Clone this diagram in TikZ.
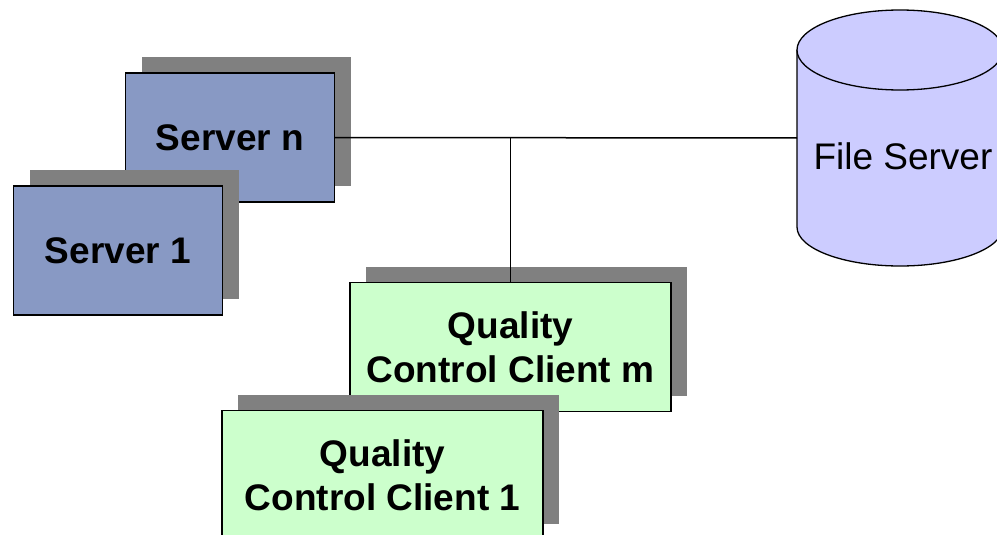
\documentclass[tikz,border=0pt]{standalone}
\usepackage{fontspec}
\setmainfont{Liberation Sans}
\usetikzlibrary{shadows}
\definecolor{srvblue}{RGB}{136,153,196}
\definecolor{qcgreen}{RGB}{204,255,204}
\definecolor{fsblue}{RGB}{204,204,255}
\definecolor{shadowgray}{RGB}{128,128,128}
\tikzset{
  box/.style={draw, line width=1.3pt, align=center, inner sep=0pt,
    font=\fontsize{37}{44}\selectfont\bfseries,
    drop shadow={shadow xshift=16pt, shadow yshift=16pt, fill=shadowgray, opacity=1}},
  server/.style={box, fill=srvblue, minimum width=209pt, minimum height=129pt},
  client/.style={box, fill=qcgreen, minimum width=321pt, minimum height=129pt},
  wire/.style={line width=1.5pt}
}
\begin{document}
\begin{tikzpicture}[x=1pt, y=-1pt]
      \useasboundingbox (0,0) rectangle (997,535);
      % servers
      \node[server] (srvn) at (230,137.5) {Server n};
      \node[server] (srv1) at (118,250.5) {Server 1};
      % clients
      \node[client] (qcm) at (510.5,347) {Quality\\Control Client m};
      \node[client] (qc1) at (382.5,475) {Quality\\Control Client 1};
      % file server
      \filldraw[fill=fsblue, line width=1.3pt]
        (797,50) -- (797,227) arc[start angle=180, end angle=0, x radius=103, y radius=39] -- (1003,50);
      \filldraw[fill=fsblue, line width=1.3pt] (900,50) ellipse[x radius=103, y radius=40];
      \node[font=\fontsize{37}{44}\selectfont] (fs) at (903,156) {File Server};
      \coordinate (fsleft) at (797,138);
      \begin{scope}[wire]
        \draw (srvn.east) -- (fsleft);
        \draw (qcm.north) -- (qcm.north |- srvn.east);
      \end{scope}
    \end{tikzpicture}
\end{document}
